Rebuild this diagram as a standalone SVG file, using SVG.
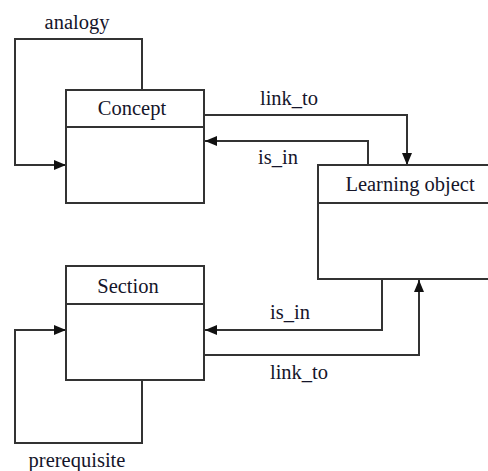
<svg xmlns="http://www.w3.org/2000/svg" width="488" height="471" viewBox="0 0 488 471">
  <defs>
    <marker id="arrow" viewBox="0 0 12 12" refX="12" refY="6" markerWidth="12" markerHeight="12" markerUnits="userSpaceOnUse" orient="auto">
      <path d="M0,1 L12,6 L0,11 Z" fill="#111111"/>
    </marker>
  </defs>

  <rect width="488" height="471" fill="#ffffff"/>

  <g id="connectors" fill="none" stroke="#333333" stroke-width="2">
    <!-- analogy: self loop on Concept -->
    <path d="M142,90 V39 H15 V165 H66" marker-end="url(#arrow)"/>
    <!-- link_to: Concept to Learning object -->
    <path d="M204,115 H407 V165" marker-end="url(#arrow)"/>
    <!-- is_in: Learning object to Concept -->
    <path d="M368,165 V141 H205" marker-end="url(#arrow)"/>
    <!-- is_in: Learning object to Section -->
    <path d="M382,279 V330 H205" marker-end="url(#arrow)"/>
    <!-- link_to: Section to Learning object -->
    <path d="M204,355 H419 V280" marker-end="url(#arrow)"/>
    <!-- prerequisite: self loop on Section -->
    <path d="M142,380 V443 H15 V330 H66" marker-end="url(#arrow)"/>
  </g>

  <g id="edge-labels" font-family="Liberation Serif" font-size="20.5" fill="#15152a" text-anchor="middle">
    <text x="77" y="29">analogy</text>
    <text x="289" y="105">link_to</text>
    <text x="278" y="164">is_in</text>
    <text x="290" y="319">is_in</text>
    <text x="299" y="379">link_to</text>
    <text x="77" y="467">prerequisite</text>
  </g>

  <g id="concept" stroke="#333333" stroke-width="2">
    <rect x="66" y="90" width="138" height="113" fill="#ffffff"/>
    <line x1="66" y1="127" x2="204" y2="127"/>
    <text x="132" y="115" stroke="none" fill="#15152a" font-family="Liberation Serif" font-size="20.5" text-anchor="middle">Concept</text>
  </g>

  <g id="learning-object" stroke="#333333" stroke-width="2">
    <rect x="318" y="165" width="175" height="114" fill="#ffffff"/>
    <line x1="318" y1="203" x2="493" y2="203"/>
    <text x="410" y="191" stroke="none" fill="#15152a" font-family="Liberation Serif" font-size="20.5" text-anchor="middle">Learning object</text>
  </g>

  <g id="section" stroke="#333333" stroke-width="2">
    <rect x="66" y="266" width="138" height="114" fill="#ffffff"/>
    <line x1="66" y1="304" x2="204" y2="304"/>
    <text x="128" y="293" stroke="none" fill="#15152a" font-family="Liberation Serif" font-size="20.5" text-anchor="middle">Section</text>
  </g>
</svg>
